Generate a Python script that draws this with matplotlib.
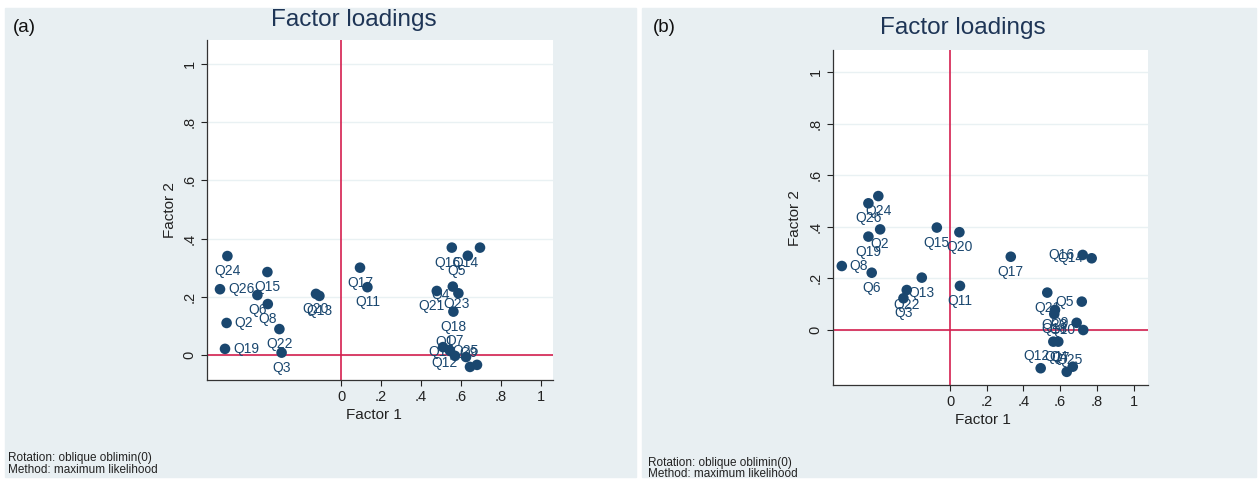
import matplotlib.pyplot as plt
from matplotlib.patches import Rectangle

plt.rcParams['font.family'] = ['Liberation Sans', 'DejaVu Sans']

W, H = 1259, 479

items = ["Q%d" % i for i in range(1, 27)]

# panel (a): factor loadings (Factor 1, Factor 2), items Q1..Q26
a_f1 = [0.510, -0.572, -0.297, 0.559, 0.695, -0.418, 0.545, -0.366, 0.680, 0.570,
        0.132, 0.645, -0.108, 0.634, -0.368, 0.554, 0.095, 0.562, -0.580, -0.125,
        0.479, -0.308, 0.587, -0.568, 0.625, -0.605]
a_f2 = [0.027, 0.110, 0.008, 0.235, 0.369, 0.206, 0.014, 0.175, -0.034, -0.003,
        0.233, -0.041, 0.203, 0.341, 0.285, 0.369, 0.300, 0.149, 0.021, 0.210,
        0.220, 0.089, 0.212, 0.340, -0.007, 0.226]

# panel (b)
b_f1 = [0.563, -0.381, -0.254, 0.590, 0.718, -0.427, 0.636, -0.590, 0.690, 0.726,
        0.054, 0.494, -0.154, 0.772, -0.072, 0.723, 0.331, 0.568, -0.445, 0.051,
        0.530, -0.236, 0.572, -0.391, 0.669, -0.445]
b_f2 = [-0.045, 0.390, 0.123, -0.045, 0.110, 0.222, -0.162, 0.248, 0.028, 0.000,
        0.171, -0.148, 0.203, 0.278, 0.397, 0.291, 0.284, 0.062, 0.362, 0.379,
        0.145, 0.155, 0.078, 0.519, -0.142, 0.491]

ticks = [0, 0.2, 0.4, 0.6, 0.8, 1]
tick_labels = ["0", ".2", ".4", ".6", ".8", "1"]

# label placement: clock position (default 6) or (dx, dy) pixel nudge
a_pos = {"Q26": 3, "Q2": 3, "Q19": 3,
         "Q16": (-4, 15), "Q14": (-2, 7), "Q5": (-23, 23), "Q4": (-12, 8),
         "Q21": (-5, 15), "Q23": (-2, 11),
         "Q1": (2, -5), "Q7": (5, -10), "Q10": (-14, -4), "Q25": (0, -6),
         "Q12": (-26, -4), "Q9": (-8, -12)}
b_pos = {"Q8": 3, "Q16": 9, "Q14": 9, "Q5": 9, "Q9": 9, "Q10": 9,
         "Q12": (-4, -12), "Q7": (-6, -14), "Q25": (-3, -7)}

NAVY = '#1a476f'
RED = '#d41f4f'
BG = '#e8eff2'


def px(x0, y0, x1, y1):
    return [x0 / W, 1 - y1 / H, (x1 - x0) / W, (y1 - y0) / H]


fig = plt.figure(figsize=(W / 100, H / 100), dpi=100)
for x0, w in [(5, 631), (642, 614)]:
    fig.add_artist(Rectangle((x0 / W, 1 - 477 / H), w / W, 469 / H,
                             transform=fig.transFigure, color=BG, zorder=-10))


def panel(rect, xlim, ylim, f1, f2, pos):
    ax = fig.add_axes(rect)
    ax.set_facecolor('white')
    ax.set_xlim(*xlim)
    ax.set_ylim(*ylim)
    for s in ['top', 'right']:
        ax.spines[s].set_visible(False)
    for s in ['left', 'bottom']:
        ax.spines[s].set_color('#333333')
        ax.spines[s].set_linewidth(0.9)
    ax.set_xticks(ticks)
    ax.set_xticklabels(tick_labels)
    ax.set_yticks(ticks)
    ax.set_yticklabels(tick_labels, rotation=90, va='center')
    ax.tick_params(direction='out', length=4, width=0.8, labelsize=10.5,
                   colors='#222222')
    for t in ticks:
        ax.axhline(t, color='#e9f1f3', lw=1.0, zorder=1)
    ax.axhline(0, color=RED, lw=1.2, zorder=2)
    ax.axvline(0, color=RED, lw=1.2, zorder=2)
    for lab, x, y in zip(items, f1, f2):
        p = pos.get(lab, 6)
        ha = 'center'
        if isinstance(p, tuple):
            dx, dy = p
        elif p == 3:
            dx, dy, ha = 8, 0, 'left'
        elif p == 9:
            dx, dy, ha = -8, 0, 'right'
        else:
            dx, dy = 0, 15
        ax.annotate(lab, (x, y), xytext=(dx * 0.72, -dy * 0.72),
                    textcoords='offset points', ha=ha, va='center',
                    fontsize=10, color=NAVY, zorder=3)
    ax.scatter(f1, f2, s=58, color=NAVY, edgecolors='none', zorder=4)
    return ax


panel(px(207, 40, 553, 380), (-0.67, 1.06), (-0.086, 1.0825), a_f1, a_f2, a_pos)
panel(px(833, 50, 1148, 385), (-0.638, 1.079), (-0.213, 1.085), b_f1, b_f2, b_pos)

for x0, cx, ty, x2y, x1y, ly, n1, n2, tag in [
        (0, 354, 20, 170, 415, 210, 458, 470, "(a)"),
        (640, 963, 28, 795, 420, 218, 463, 474, "(b)")]:
    fig.text(cx / W, 1 - ty / H, "Factor loadings", ha='center', va='center',
             fontsize=17.5, color='#1e3556')
    fig.text((x0 + 24) / W, 1 - 27 / H, tag, ha='center', va='center',
             fontsize=13.5, color='#111111')
    fig.text(x2y / W, 1 - ly / H, "Factor 2", rotation=90, ha='center',
             va='center', fontsize=11, color='#222222')
    fig.text((cx + 20) / W, 1 - x1y / H, "Factor 1", ha='center', va='center',
             fontsize=11, color='#222222')
    fig.text((x0 + 8) / W, 1 - n1 / H, "Rotation: oblique oblimin(0)",
             ha='left', va='center', fontsize=8.5, color='#222222')
    fig.text((x0 + 8) / W, 1 - n2 / H, "Method: maximum likelihood",
             ha='left', va='center', fontsize=8.5, color='#222222')

fig.savefig('out.png', dpi=100, facecolor='white')
